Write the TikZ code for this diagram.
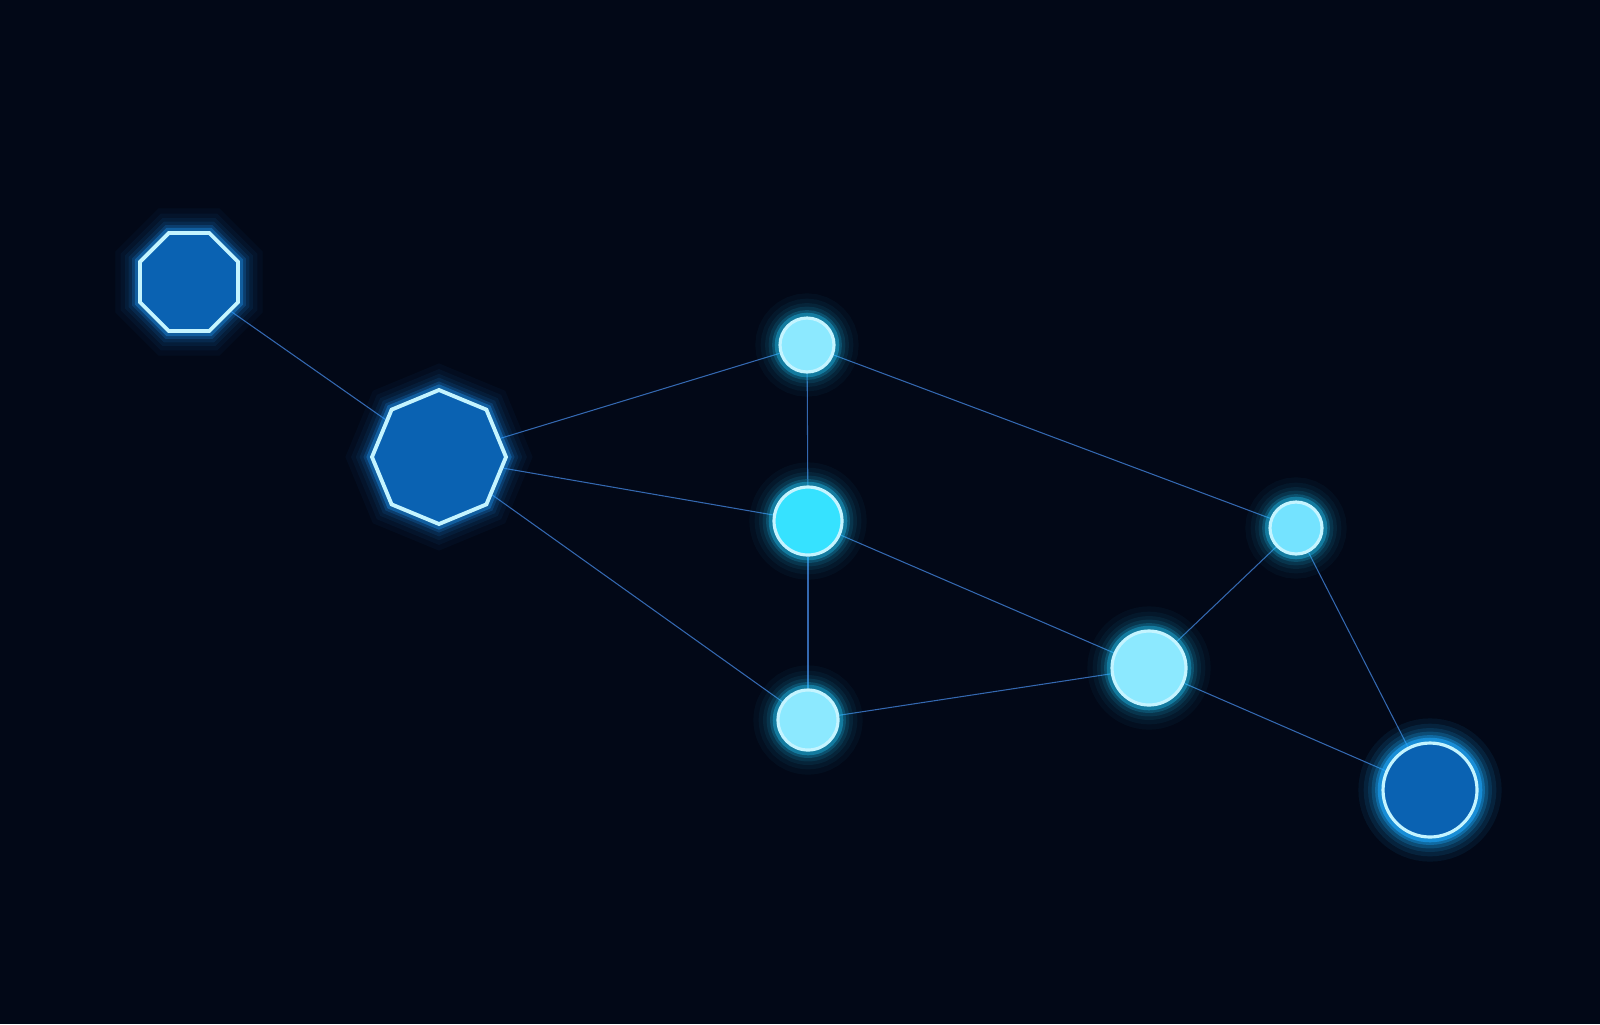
\documentclass[tikz,border=0pt]{standalone}
\usepackage{tikz}
\usetikzlibrary{shapes.geometric}

\definecolor{bgnavy}{HTML}{020817}
\definecolor{deepblue}{HTML}{0A62B2}
\definecolor{rimwhite}{HTML}{C4F4FF}
\definecolor{glowblue}{HTML}{1E9CFF}
\definecolor{glowcyan}{HTML}{22CCFF}
\definecolor{palecyan}{HTML}{8CE9FF}
\definecolor{brightcyan}{HTML}{36E2FF}
\definecolor{midcyan}{HTML}{74E3FF}
\definecolor{linkblue}{HTML}{3468B0}

\pgfdeclarelayer{bg}
\pgfdeclarelayer{links}
\pgfsetlayers{bg,links,main}

\tikzset{
  glow/.style={
    preaction={draw=#1,line width=14pt,opacity=0.04},
    preaction={draw=#1,line width=11pt,opacity=0.05},
    preaction={draw=#1,line width=8.5pt,opacity=0.07},
    preaction={draw=#1,line width=6.5pt,opacity=0.10},
    preaction={draw=#1,line width=4.5pt,opacity=0.18},
    preaction={draw=#1,line width=3pt,opacity=0.35}},
  octbox/.style={regular polygon,regular polygon sides=8,inner sep=0pt,
    fill=deepblue,draw=rimwhite,line width=1.1pt,glow=glowblue},
  dotbox/.style={circle,inner sep=0pt,draw=rimwhite,line width=0.9pt,glow=glowcyan},
  link/.style={draw=linkblue,line width=0.3pt}
}

\begin{document}
\begin{tikzpicture}
    % background
    \begin{pgfonlayer}{bg}
        \fill[bgnavy] (0,0) rectangle (16,-10.24);
    \end{pgfonlayer}
    \useasboundingbox (0,0) rectangle (16,-10.24);

    % octagons
    \node[octbox,minimum size=1.06cm] (octSmall) at (1.89,-2.82) {};
    \node[octbox,minimum size=1.34cm,shape border rotate=22.5] (octBig) at (4.39,-4.57) {};

    % round nodes
    \node[dotbox,fill=palecyan,minimum size=0.54cm] (nTop) at (8.07,-3.45) {};
    \node[dotbox,fill=brightcyan,minimum size=0.68cm] (nMid) at (8.08,-5.21) {};
    \node[dotbox,fill=palecyan,minimum size=0.60cm] (nLow) at (8.08,-7.20) {};
    \node[dotbox,fill=midcyan,minimum size=0.52cm] (nRight) at (12.96,-5.28) {};
    \node[dotbox,fill=palecyan,minimum size=0.74cm] (nHub) at (11.49,-6.68) {};
    \node[dotbox,fill=deepblue,draw=rimwhite,glow=glowblue,minimum size=0.94cm] (nEnd) at (14.30,-7.90) {};

    % links
    \begin{pgfonlayer}{links}
        \foreach \a/\b in {octSmall/octBig,octBig/nTop,octBig/nMid,octBig/nLow,
                           nTop/nMid,nMid/nLow,nTop/nRight,nMid/nHub,nLow/nHub,
                           nHub/nRight,nRight/nEnd,nHub/nEnd}
            \draw[link] (\a) -- (\b);
    \end{pgfonlayer}
\end{tikzpicture}
\end{document}
